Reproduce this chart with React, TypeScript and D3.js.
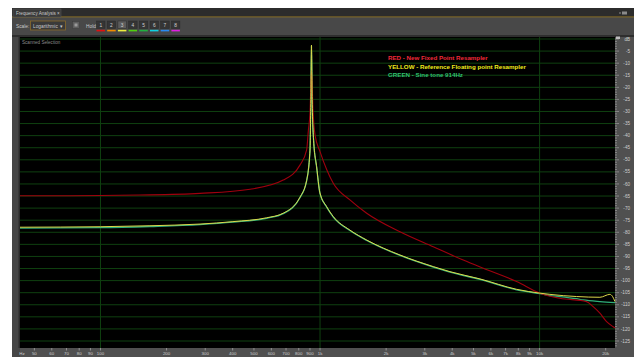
import * as d3 from 'd3'

// Readings in [Hz, dB]
const redSeries: [number, number][] = [
  [43, -64.9], [100, -64.8], [151, -64.6], [284, -63.9], [480, -62.2], [680, -58.4],
  [810, -52.2], [869, -45.9], [885, -37.7], [900, -30.6], [914, -13], [930, -30.6],
  [950, -40], [999, -46.5], [1072, -54], [1149, -59.7], [1368, -66.6], [1631, -72.1],
  [2312, -79.8], [3278, -86], [4490, -91.5], [5539, -94.9], [7857, -100.4], [10032, -105.2],
  [12372, -107.3], [16370, -108.7], [17540, -110.8], [18820, -113.5], [20190, -117],
  [21630, -119.1], [22050, -119.6],
]

const yellowSeries: [number, number][] = [
  [43, -77.9], [100, -77.7], [168, -77.3], [284, -76.6], [401, -75.6], [571, -74],
  [680, -72.1], [810, -65.5], [869, -58.5], [900, -46], [908, -25], [914, -2.5],
  [921, -25], [935, -42], [965, -52.9], [999, -63.7], [1072, -69.4], [1149, -73.5],
  [1368, -79.1], [1631, -83.2], [2312, -89.4], [3278, -94.2], [3905, -96.3], [5349, -99.3],
  [7857, -103.6], [10032, -105.2], [11142, -105.7], [14740, -106.6], [18820, -106.9],
  [20900, -105.7], [21500, -106.6], [22050, -108.7],
]

const greenSeries: [number, number][] = [
  [43, -78.3], [100, -78.1], [168, -77.6], [284, -76.8], [401, -75.8], [571, -74.2],
  [680, -72.3], [810, -65.7], [869, -58.7], [900, -46.2], [908, -25.2], [914, -2.7],
  [921, -25.2], [935, -42.2], [965, -53.1], [999, -63.9], [1072, -69.6], [1149, -73.7],
  [1368, -79.3], [1631, -83.4], [2312, -89.6], [3278, -94.4], [3905, -96.5], [5349, -99.5],
  [7857, -103.8], [10032, -105.4], [11142, -106.2], [12372, -106.6], [14740, -107.5],
  [15800, -108], [18820, -108.7], [22050, -109.1],
]

const freqTicks = [50, 60, 70, 80, 90, 100, 200, 300, 400, 500, 600, 700, 800, 900,
  1000, 2000, 3000, 4000, 5000, 6000, 7000, 8000, 9000, 10000, 20000]
const freqGrid = [100, 1000, 10000]
const dbTicks = d3.range(-5, -130, -5)
const legendLines = [
  { text: 'RED - New Fixed Point Resampler', color: '#f0283a' },
  { text: 'YELLOW - Reference Floating point Resampler', color: '#f2ec1c' },
  { text: 'GREEN - Sine tone 914Hz', color: '#30c070' },
]
const holdColors = ['#e01010', '#f08a00', '#eeee40', '#50d010', '#20b040', '#10d0e0', '#2a8af0', '#e020e0']

const W = 634
const H = 357
const plot = { left: 20, right: 615, top: 37, bottom: 348 }

export default function App() {
  const x = d3.scaleLog().domain([43, 22050]).range([plot.left, plot.right])
  const y = d3.scaleLinear().domain([-125, 0]).range([341, 39])

  const line = d3
    .line<[number, number]>()
    .x(d => x(d[0]))
    .y(d => y(d[1]))
    .curve(d3.curveMonotoneX)

  const fmt = (f: number) => (f >= 1000 ? `${f / 1000}k` : `${f}`)
  const minorDb = d3.range(0, -128, -1)
  const font = 'Liberation Sans, Arial, sans-serif'

  return (
    <svg
      width={W}
      height={H}
      style={{ position: 'absolute', left: 0, top: 0, display: 'block' }}
      fontFamily={font}
    >
      <rect x={0} y={0} width={W} height={H} fill="#ffffff" />
      {/* window frame */}
      <rect x={12} y={8} width={W - 12} height={H - 8} fill="#484848" />
      <rect x={12} y={8} width={W - 12} height={9} fill="#2c2c2c" />
      <rect x={12} y={16.5} width={W - 12} height={0.8} fill="#9a7a22" />
      <rect x={13} y={9} width={48} height={8} fill="#3a3a3a" stroke="#5a5a5a" strokeWidth={0.5} />
      <text x={16} y={14.8} fontSize={4.6} fill="#c8c8c8">Frequency Analysis ×</text>
      <rect x={622} y={11.5} width={5} height={3} fill="#8a8a8a" />
      <rect x={619} y={12.5} width={2} height={1} fill="#8a8a8a" />

      {/* toolbar */}
      <text x={16} y={27.5} fontSize={4.8} fill="#c8c8c8">Scale:</text>
      <rect x={30.5} y={21} width={35} height={9} fill="#3a3a3a" stroke="#8a6a2a" strokeWidth={0.8} />
      <text x={33} y={27.5} fontSize={4.8} fill="#c8c8c8">Logarithmic</text>
      <text x={60} y={27.5} fontSize={4.5} fill="#c8c8c8">▾</text>
      <rect x={72.5} y={21.5} width={7} height={7} fill="#5e5e5e" stroke="#3a3a3a" strokeWidth={0.5} />
      <rect x={74.5} y={23.5} width={3} height={3} fill="#9a9a9a" />
      <text x={86} y={27.5} fontSize={4.8} fill="#c8c8c8">Hold:</text>
      {holdColors.map((c, i) => (
        <g key={c + i}>
          <rect
            x={96.5 + i * 10.7}
            y={21}
            width={8.5}
            height={7.5}
            fill={i === 2 ? '#5c5c5c' : '#353535'}
            stroke="#2a2a2a"
            strokeWidth={0.5}
          />
          <text x={100.75 + i * 10.7} y={26.8} fontSize={4.8} fill="#d0d0d0" textAnchor="middle">
            {i + 1}
          </text>
          <rect x={96.5 + i * 10.7} y={29.8} width={8.5} height={1.6} fill={c} />
        </g>
      ))}
      <rect x={12} y={35} width={W - 12} height={2} fill="#2e2e2e" />

      {/* plot area */}
      <rect x={plot.left} y={plot.top} width={plot.right - plot.left} height={plot.bottom - plot.top} fill="#000000" />
      <rect x={plot.right} y={plot.top} width={W - plot.right} height={H - plot.top} fill="#505050" />
      <rect x={12} y={plot.bottom} width={W - 12} height={H - plot.bottom} fill="#505050" />
      <rect x={12} y={plot.top} width={8} height={H - plot.top} fill="#464646" />
      <rect x={18.5} y={plot.top} width={1.5} height={plot.bottom - plot.top} fill="#2a2a2a" />

      {/* grid */}
      {d3.range(0, -130, -5).map(v => (
        <line
          key={`h${v}`}
          x1={plot.left}
          x2={plot.right}
          y1={y(v)}
          y2={y(v)}
          stroke="#0f4010"
          strokeWidth={1}
        />
      ))}
      {freqGrid.map(f => (
        <line key={`v${f}`} x1={x(f)} x2={x(f)} y1={plot.top} y2={plot.bottom} stroke="#0f4010" strokeWidth={1} />
      ))}

      <text x={22} y={43.5} fontSize={4.6} fill="#8a8a8a">Scanned Selection</text>

      {/* series */}
      <path d={line(greenSeries) ?? ''} fill="none" stroke="#2fb07a" strokeWidth={1.3} />
      <path d={line(redSeries) ?? ''} fill="none" stroke="#a0000e" strokeWidth={1.1} />
      <path d={line(yellowSeries) ?? ''} fill="none" stroke="#dcd84a" strokeWidth={1} />

      {/* legend */}
      {legendLines.map((l, i) => (
        <text key={l.text} x={388} y={60 + i * 8.6} fontSize={6.2} fontWeight="bold" fill={l.color}>
          {l.text}
        </text>
      ))}

      {/* right dB axis */}
      {minorDb.map(v => (
        <line
          key={`m${v}`}
          x1={plot.right}
          x2={plot.right + (v % 5 === 0 ? 4 : 2)}
          y1={y(v)}
          y2={y(v)}
          stroke="#bdbdbd"
          strokeWidth={0.5}
        />
      ))}
      <rect x={plot.right + 1} y={36.5} width={4} height={2.5} fill="#bdbdbd" />
      <text x={630} y={40.5} fontSize={4.6} fill="#cfcfcf" textAnchor="end">dB</text>
      {dbTicks.map(v => (
        <text key={`t${v}`} x={630} y={y(v) + 1.6} fontSize={4.6} fill="#cfcfcf" textAnchor="end">
          {v}
        </text>
      ))}

      {/* bottom frequency axis */}
      {freqTicks.map(f => (
        <line key={`ft${f}`} x1={x(f)} x2={x(f)} y1={plot.bottom} y2={plot.bottom + 2.5} stroke="#bdbdbd" strokeWidth={0.6} />
      ))}
      {freqTicks.map(f => (
        <text key={`fl${f}`} x={x(f)} y={355} fontSize={4.4} fill="#cfcfcf" textAnchor="middle">
          {fmt(f)}
        </text>
      ))}
      <text x={22} y={355} fontSize={4.4} fill="#cfcfcf" textAnchor="middle">Hz</text>
    </svg>
  )
}
